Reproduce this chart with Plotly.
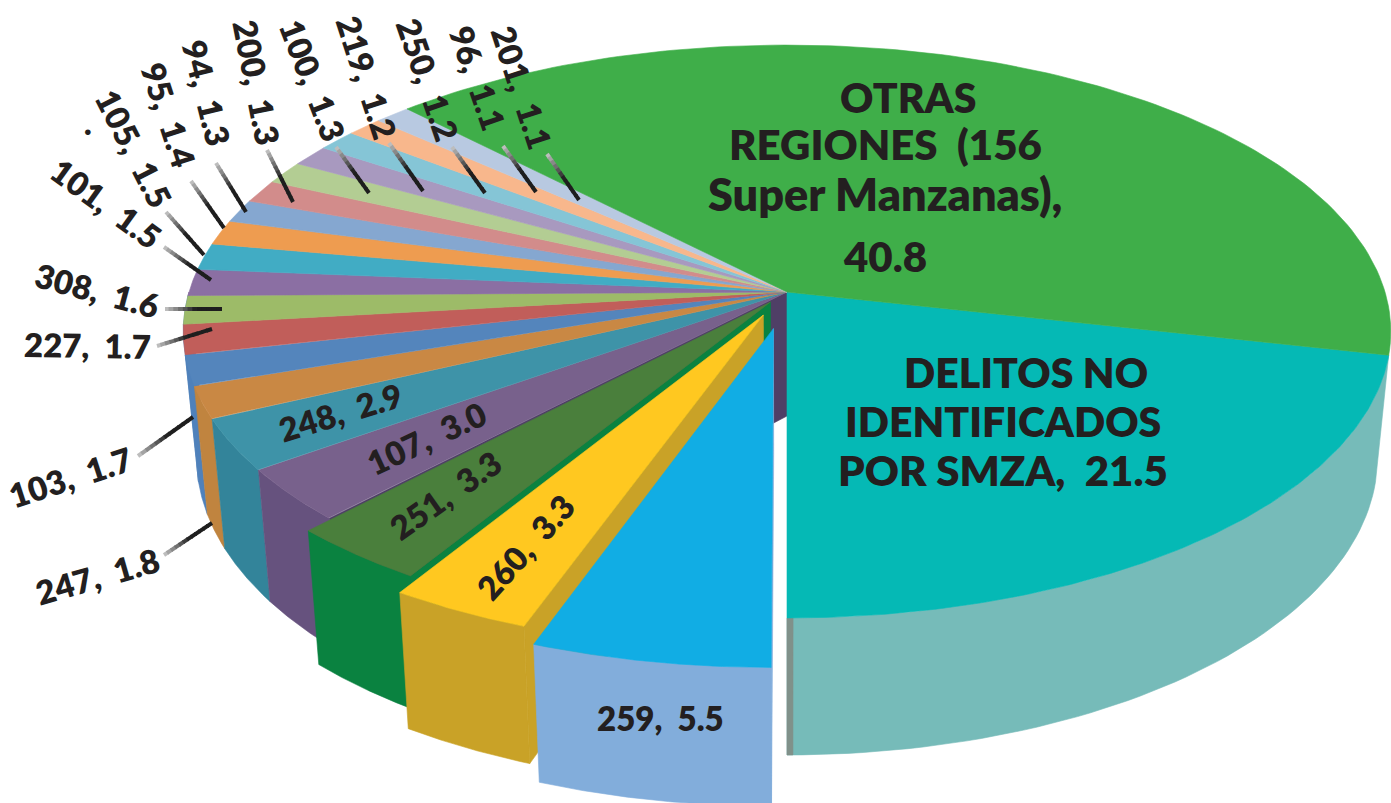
import math
import plotly.graph_objects as go

# ---------- data ----------
categories = ["DELITOS NO IDENTIFICADOS POR SMZA", "259", "260", "251", "107", "248", "247", "103", "227",
              "308", "101", "105", "95", "94", "200", "100", "219", "250", "96", "201",
              "OTRAS REGIONES (156 Super Manzanas)"]
values = [21.5, 5.5, 3.3, 3.3, 3.0, 2.9, 1.8, 1.7, 1.7,
          1.6, 1.5, 1.5, 1.4, 1.3, 1.3, 1.3, 1.2, 1.2, 1.1, 1.1, 40.8]
top_colors = ["#05B9B5", "#11ADE4", "#FFC820", "#4A7F3C", "#78618C", "#3E93A8", "#C98844", "#5485BC", "#C15E5A",
              "#9DBB68", "#8B6FA3", "#41ACC4", "#EE9C50", "#85A7D0", "#D28C8B", "#B3CD93", "#A899BF", "#85C5D6",
              "#F8B78C", "#B8C9E1", "#3FAE49"]
side_colors = ["#76BBB9", "#82ADDB", "#C9A227", "#0A8240", "#66527E", "#33849A", "#C0843F", "#4F81BB", "#4F81BB",
               "#4F81BB", "#7D6394", "#3A9BB1", "#D68C48", "#789ABF", "#BE7E7D", "#A1B984", "#9889AC", "#78B1C1",
               "#E0A57E", "#A6B5CB", "#399D42"]
explode = [0, 0.13, 0.09, 0.045] + [0] * 17

# ---------- projection of the tilted pie ----------
W, H = 1391, 803
CX, CY, A, B, K = 787, 292, 598, 281, 0.138
START = 12.6            # degrees clockwise from east at which the first slice starts
SHRINK = 0.978
DEPTH0, DEPTH1 = 124, 13


def top(u, v):
    f = 1 / (1 - K * v)
    return CX + A * u * f, CY + B * v * f


def bottom(u, v):
    x, y = top(u, v)
    return CX + (x - CX) * SHRINK, y + DEPTH0 + DEPTH1 * v


angles = [START]
for val in values:
    angles.append(angles[-1] + val / sum(values) * 360)


def rim(a0, a1, off, n=60):
    pts = []
    for i in range(n + 1):
        t = math.radians(a0 + (a1 - a0) * i / n)
        pts.append((math.cos(t) + off[0], math.sin(t) + off[1]))
    return pts


def offset(i):
    m = math.radians((angles[i] + angles[i + 1]) / 2)
    return explode[i] * math.cos(m), explode[i] * math.sin(m)


fig = go.Figure()


def poly(pts, color):
    fig.add_trace(go.Scatter(x=[p[0] for p in pts] + [pts[0][0]], y=[p[1] for p in pts] + [pts[0][1]],
                             mode="lines", fill="toself", fillcolor=color,
                             line=dict(color=color, width=0.6), hoverinfo="skip", showlegend=False))


def draw_side(i, a0=None, a1=None, color=None):
    a0 = angles[i] if a0 is None else a0
    a1 = angles[i + 1] if a1 is None else a1
    a0, a1 = max(a0, 0), min(a1, 180)
    if a1 <= a0:
        return
    r = rim(a0, a1, offset(i))
    poly([top(*p) for p in r] + [bottom(*p) for p in reversed(r)], color or side_colors[i])


def draw_top(i):
    o = offset(i)
    poly([top(*o)] + [top(*p) for p in rim(angles[i], angles[i + 1], o, 120)], top_colors[i])


def draw_wall(i, a, color):
    o = offset(i)
    t = math.radians(a)
    p = (math.cos(t) + o[0], math.sin(t) + o[1])
    poly([top(*o), top(*p), bottom(*p), bottom(*o)], color)


exploded = [i for i, e in enumerate(explode) if e > 0]
plain = [i for i, e in enumerate(explode) if e == 0]

# back wall seen through the gap left by the exploded slices
draw_wall(4, angles[4], "#4F3F66")
# farthest side walls first, so nearer ones hide them
for i in sorted(plain, key=lambda j: -abs((angles[j] + angles[j + 1]) / 2 - 90)):
    draw_side(i)
draw_side(0, angles[1] - 0.5, angles[1], "#80918A")
for i in plain:
    draw_top(i)
for i in sorted(exploded, reverse=True):
    draw_wall(i, angles[i], side_colors[i])
    draw_side(i)
    draw_top(i)

# ---------- leader lines (dark end, faded end) ----------
leaders = [((579, 200), (547, 154)), ((536, 192), (503, 146)), ((485, 193), (452, 147)),
           ((423, 191), (389, 143)), ((369, 193), (336, 147)), ((293, 202), (267, 150)),
           ((246, 212), (216, 163)), ((224, 228), (191, 181)), ((204, 255), (166, 212)),
           ((211, 280), (164, 247)), ((222, 309), (165, 309)), ((212, 329), (157, 346)),
           ((193, 417), (138, 456)), ((212, 523), (164, 555))]
shapes = []
SEG = 12
# drawn from the faded end inwards so each overlap favours the darker colour
for (x0, y0), (x1, y1) in leaders:
    for s in reversed(range(SEG)):
        t0, t1 = s / SEG, (s + 1.25) / SEG
        t1 = min(t1, 1)
        frac = max(0, (t0 - 0.4) / 0.6)
        c = int(30 + 185 * frac)
        shapes.append(dict(type="line", xref="x", yref="y", layer="above",
                           x0=x0 + (x1 - x0) * t0, y0=y0 + (y1 - y0) * t0,
                           x1=x0 + (x1 - x0) * t1, y1=y0 + (y1 - y0) * t1,
                           line=dict(color=f"rgb({c},{c},{c})", width=4)))

# ---------- labels ----------
INK = "#231F20"
val = dict(zip(categories, values))
FONT = "Lato"


def lab(text, x, y, size=34, rot=0):
    fig.add_annotation(x=x, y=y, xref="x", yref="y", text=text, showarrow=False, textangle=rot,
                       xanchor="center", yanchor="middle",
                       font=dict(family=FONT, size=size, color=INK, weight=800))


def small(cat, x, y, rot):
    lab(f"{cat},  {val[cat]:.1f}", x, y, 33, rot)


lab("OTRAS", 908, 97, 41)
lab("REGIONES  (156", 885, 144, 42)
lab("Super Manzanas),", 885, 194, 45)
lab(f"{val['OTRAS REGIONES (156 Super Manzanas)']:.1f}", 885, 256, 42)
lab("DELITOS NO", 1026, 372, 41)
lab("IDENTIFICADOS", 1003, 421, 41)
lab(f"POR SMZA,  {val['DELITOS NO IDENTIFICADOS POR SMZA']:.1f}", 1003, 470, 42)

small("259", 660, 718, 0)
small("260", 525, 547, -48)
small("251", 445, 495, -35)
small("107", 426, 438, -25)
small("248", 340, 412, -17)
small("247", 97, 576, -16)
small("103", 70, 477, -18)
small("227", 87, 345, 1)
small("308", 97, 290, 15)
small("101", 106, 203, 36)
small("105", 134, 148, 63)
small("95", 169, 115, 72)
small("94", 207, 93, 76)
small("200", 257, 82, 79)
small("100", 313, 80, 69)
small("219", 367, 77, 72)
small("250", 428, 79, 71)
small("96", 478, 78, 71)
small("201", 522, 87, 72)
lab(".", 88, 122, 32)

fig.update_layout(width=W, height=H, margin=dict(l=0, r=0, t=0, b=0), paper_bgcolor="white", plot_bgcolor="white",
                  shapes=shapes, showlegend=False,
                  xaxis=dict(range=[0, W], visible=False, fixedrange=True),
                  yaxis=dict(range=[H, 0], visible=False, fixedrange=True))
fig.write_html("out.html", config=dict(displayModeBar=False),
               post_script="document.body.style.margin='0';document.body.style.overflow='hidden';")
